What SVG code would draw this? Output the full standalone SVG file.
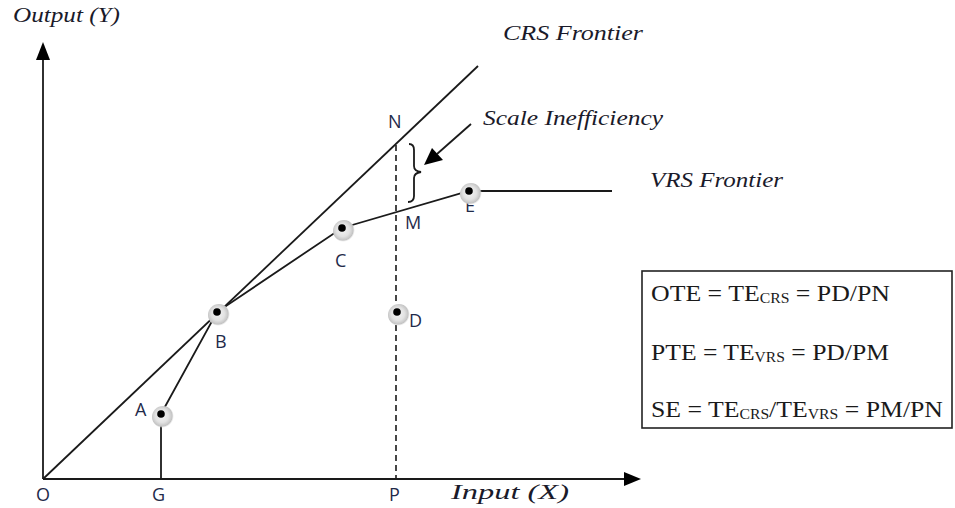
<svg xmlns="http://www.w3.org/2000/svg" width="955" height="508" viewBox="0 0 955 508">
<style>
.ln{stroke:#1a1a1a;stroke-width:1.8;fill:none}
.dash{stroke:#1a1a1a;stroke-width:1.6;fill:none;stroke-dasharray:6,4}
.it{font-family:"Liberation Serif","Times New Roman",serif;font-style:italic;font-size:21px;fill:#1a1a2a}
.lb{font-family:"Open Sans","Liberation Sans",sans-serif;font-size:18px;fill:#1f2a4a}
.eq{font-family:"Liberation Serif","Times New Roman",serif;font-size:23px;fill:#1a1a1a}
.sub{font-size:14px}
.dot{fill:#000}
</style>
<defs>
<radialGradient id="halo" cx="0.45" cy="0.45" r="0.55">
<stop offset="0" stop-color="#f4f4f4"/>
<stop offset="0.55" stop-color="#e2e2e2"/>
<stop offset="0.85" stop-color="#c4c4c4"/>
<stop offset="1" stop-color="#e8e8e8" stop-opacity="0"/>
</radialGradient>
</defs>
<rect width="955" height="508" fill="#fff"/>

<g id="axes">
<line class="ln" x1="43" y1="479" x2="43" y2="58"/>
<path d="M36,60 L43,42 L50,60 z" fill="#000"/>
<line class="ln" x1="43" y1="479" x2="625" y2="479"/>
<path d="M624,472 L641,479 L624,486 z" fill="#000"/>
<text class="it" x="13" y="22" textLength="107" lengthAdjust="spacingAndGlyphs">Output (Y)</text>
<text class="it" x="451" y="499" textLength="118" lengthAdjust="spacingAndGlyphs">Input (X)</text>
</g>

<g id="connectors">
<line id="crs" class="ln" x1="43" y1="479" x2="478" y2="66"/>
<polyline id="vrs" class="ln" points="161,414 217,312 342,228 469,191 612,191"/>
<line class="ln" x1="161" y1="414" x2="161" y2="479"/>
<line class="dash" x1="396" y1="145" x2="396" y2="479"/>
<path class="ln" stroke-width="1.4" d="M409,144 Q414,144 414,150 L414,166 Q414,171 421,172 Q414,173 414,178 L414,196 Q414,202 408,202"/>
<line class="ln" x1="471" y1="124" x2="437" y2="154" stroke-width="3"/>
<path d="M424,165 L432,148 L443,160 z" fill="#000"/>
</g>

<g id="pointA"><circle cx="163" cy="417" r="11" fill="url(#halo)"/><circle class="dot" cx="161" cy="414" r="3.8"/><text class="lb" x="135" y="416">A</text></g>
<g id="pointB"><circle cx="219" cy="315" r="11" fill="url(#halo)"/><circle class="dot" cx="217" cy="312" r="3.8"/><text class="lb" x="215" y="348">B</text></g>
<g id="pointC"><circle cx="344" cy="231" r="11" fill="url(#halo)"/><circle class="dot" cx="342" cy="228" r="3.8"/><text class="lb" x="335" y="267">C</text></g>
<g id="pointD"><circle cx="399" cy="315" r="11" fill="url(#halo)"/><circle class="dot" cx="397" cy="312" r="3.8"/><text class="lb" x="409" y="327">D</text></g>
<g id="pointE"><text class="lb" x="465" y="212">E</text><circle cx="471" cy="194" r="11" fill="url(#halo)"/><circle class="dot" cx="469" cy="191" r="3.8"/></g>
<g id="pointM"><text class="lb" x="405" y="229">M</text></g>
<g id="pointN"><text class="lb" x="388" y="128">N</text></g>
<g id="pointO"><text class="lb" x="36" y="501">O</text></g>
<g id="pointG"><text class="lb" x="152" y="501">G</text></g>
<g id="pointP"><text class="lb" x="389" y="501">P</text></g>

<g id="labels">
<text class="it" x="503" y="40" textLength="140" lengthAdjust="spacingAndGlyphs">CRS Frontier</text>
<text class="it" x="483" y="125" textLength="180" lengthAdjust="spacingAndGlyphs">Scale Inefficiency</text>
<text class="it" x="650" y="187" textLength="133" lengthAdjust="spacingAndGlyphs">VRS Frontier</text>
</g>

<g id="formulaBox">
<rect x="642" y="271" width="310" height="157" fill="#fff" stroke="#222" stroke-width="1.6"/>
<text class="eq" x="651" y="301" textLength="239" lengthAdjust="spacingAndGlyphs">OTE = TE<tspan class="sub" dy="2">CRS</tspan><tspan dy="-2"> = PD/PN</tspan></text>
<text class="eq" x="651" y="360" textLength="238" lengthAdjust="spacingAndGlyphs">PTE = TE<tspan class="sub" dy="2">VRS</tspan><tspan dy="-2"> = PD/PM</tspan></text>
<text class="eq" x="651" y="417" textLength="292" lengthAdjust="spacingAndGlyphs">SE = TE<tspan class="sub" dy="2">CRS</tspan><tspan dy="-2">/TE</tspan><tspan class="sub" dy="2">VRS</tspan><tspan dy="-2"> = PM/PN</tspan></text>
</g>
</svg>
